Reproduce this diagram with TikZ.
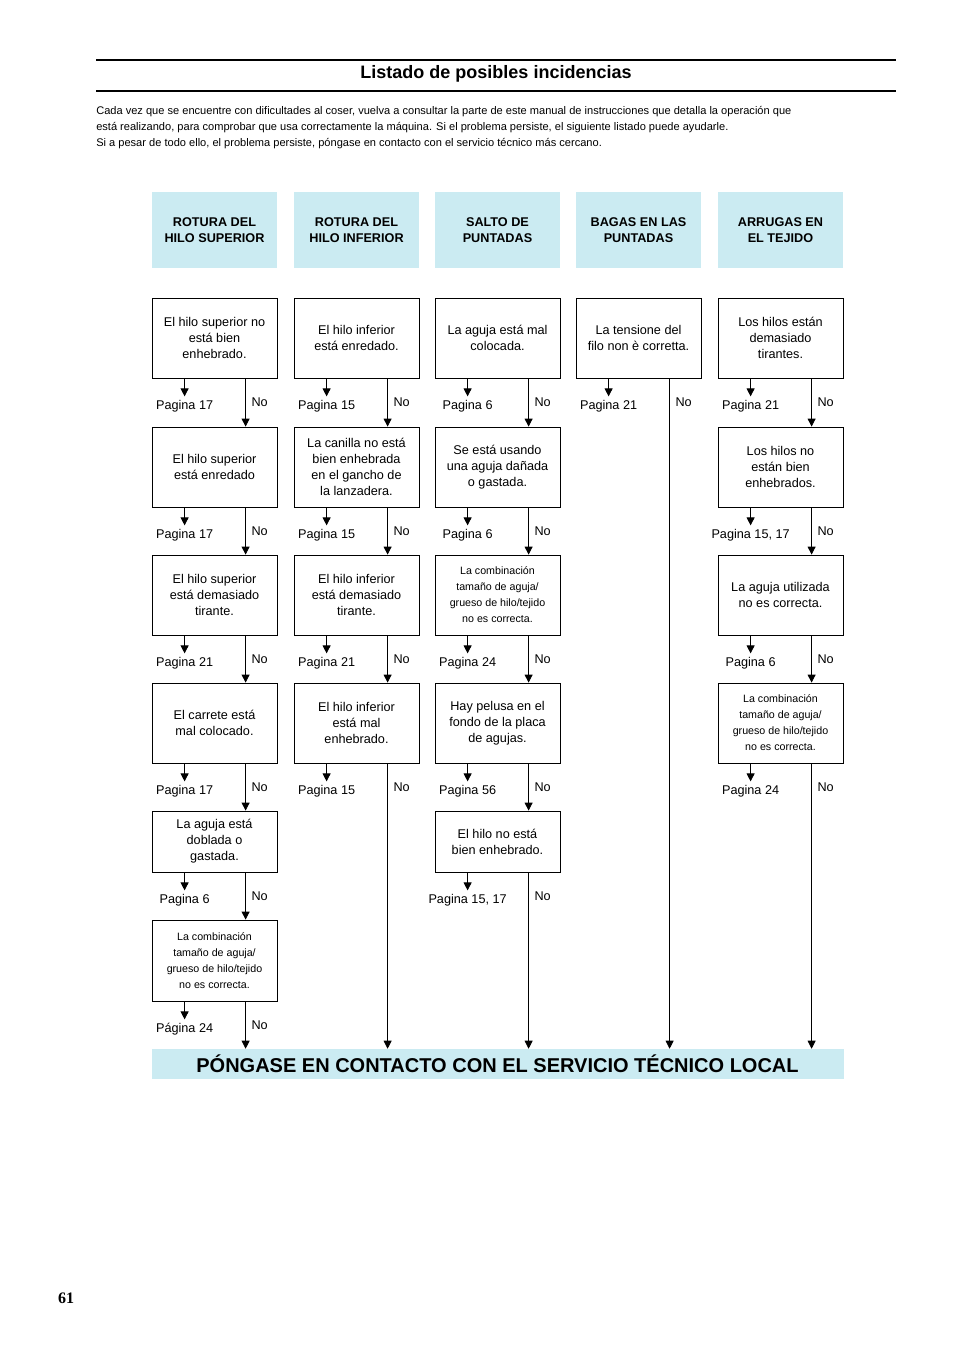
\documentclass[tikz,border=0pt]{standalone}
\usepackage{fontspec}
\setmainfont{Liberation Sans}
\usetikzlibrary{calc,arrows.meta}
\definecolor{celeste}{HTML}{CBEBF2}
\tikzset{
  caja/.style={draw, line width=0.6pt, minimum width=93.75pt, minimum height=60pt, align=center, inner sep=1pt, font=\fontsize{9.5}{12}\selectfont},
  cajachica/.style={caja, font=\fontsize{8}{12}\selectfont},
  cabecera/.style={fill=celeste, minimum width=93.75pt, minimum height=57pt, align=center, font=\fontsize{9.5}{12}\selectfont\bfseries},
  flecha/.style={line width=0.6pt, -{Triangle[length=6pt,width=6pt]}},
  pag/.style={font=\fontsize{9.5}{12}\selectfont},
}
% box: name, left x, top y, height (px), text
\newcommand{\caso}[5]{\node[caja, minimum height=#4*0.75pt] (#1) at (#2+62.5,#3+#4/2) {#5};}
\newcommand{\casochico}[5]{\node[cajachica, minimum height=#4*0.75pt] (#1) at (#2+62.5,#3+#4/2) {#5};}
% page arrow under a box
\newcommand{\pagina}[2]{\draw[flecha] ($(#1.south west)+(33,0)$) -- ++(0,18) node[pag, below=-1pt] (#1p) {#2};}
% "No" connector between boxes
\newcommand{\no}[2]{\draw[flecha] ($(#1.south west)+(94,0)$) -- ($(#2.north west)+(94,0)$);
  \node[pag] (#1no) at ($(#1.south west)+(108,24)$) {No};}
\newcommand{\nofin}[1]{\draw[flecha] ($(#1.south west)+(94,0)$) coordinate (#1c) -- (#1c |- fin.north);
  \node[pag] (#1no) at ($(#1.south west)+(108,24)$) {No};}
\begin{document}
\begin{tikzpicture}[x=0.75pt, y=-0.75pt]
\useasboundingbox (0,0) rectangle (954,1351);
% Title
\draw[line width=2.2pt] (96,60) -- (896,60);
\draw[line width=2.2pt] (96,91) -- (896,91);
\node[font=\fontsize{13.5}{14}\selectfont\bfseries] (titulo) at (496,74) {Listado de posibles incidencias};
\node[anchor=north west, align=left, inner sep=0pt, font=\fontsize{8.3}{12}\selectfont] (intro) at (96,106)
 {Cada vez que se encuentre con dificultades al coser, vuelva a consultar la parte de este manual de instrucciones que detalla la operación que\\
  está realizando, para comprobar que usa correctamente la máquina. Si el problema persiste, el siguiente listado puede ayudarle.\\
  Si a pesar de todo ello, el problema persiste, póngase en contacto con el servicio técnico más cercano.};

% Headers
\node[cabecera] (h1) at (214.5,230) {ROTURA DEL\\HILO SUPERIOR};
\node[cabecera] (h2) at (356.5,230) {ROTURA DEL\\HILO INFERIOR};
\node[cabecera] (h3) at (497.5,230) {SALTO DE\\PUNTADAS};
\node[cabecera] (h4) at (638.5,230) {BAGAS EN LAS\\PUNTADAS};
\node[cabecera] (h5) at (780.5,230) {ARRUGAS EN\\EL TEJIDO};

% Bottom bar
\node[fill=celeste, minimum width=519pt, minimum height=22.5pt, font=\fontsize{15}{16}\selectfont\bfseries] (fin) at (497.5,1064) {PÓNGASE EN CONTACTO CON EL SERVICIO TÉCNICO LOCAL};

% Column 1
\caso{a1}{152}{298}{80}{El hilo superior no\\está bien\\enhebrado.}
\caso{a2}{152}{427}{80}{El hilo superior\\está enredado}
\caso{a3}{152}{555}{80}{El hilo superior\\está demasiado\\tirante.}
\caso{a4}{152}{683}{80}{El carrete está\\mal colocado.}
\caso{a5}{152}{811}{61}{La aguja está\\doblada o\\gastada.}
\casochico{a6}{152}{920}{81}{La combinación\\tamaño de aguja/\\grueso de hilo/tejido\\no es correcta.}
\pagina{a1}{Pagina 17} \pagina{a2}{Pagina 17} \pagina{a3}{Pagina 21}
\pagina{a4}{Pagina 17} \pagina{a5}{Pagina 6} \pagina{a6}{Página 24}
\no{a1}{a2} \no{a2}{a3} \no{a3}{a4} \no{a4}{a5} \no{a5}{a6} \nofin{a6}

% Column 2
\caso{b1}{294}{298}{80}{El hilo inferior\\está enredado.}
\caso{b2}{294}{427}{80}{La canilla no está\\bien enhebrada\\en el gancho de\\la lanzadera.}
\caso{b3}{294}{555}{80}{El hilo inferior\\está demasiado\\tirante.}
\caso{b4}{294}{683}{80}{El hilo inferior\\está mal\\enhebrado.}
\pagina{b1}{Pagina 15} \pagina{b2}{Pagina 15} \pagina{b3}{Pagina 21} \pagina{b4}{Pagina 15}
\no{b1}{b2} \no{b2}{b3} \no{b3}{b4} \nofin{b4}

% Column 3
\caso{c1}{435}{298}{80}{La aguja está mal\\colocada.}
\caso{c2}{435}{427}{80}{Se está usando\\una aguja dañada\\o gastada.}
\casochico{c3}{435}{555}{80}{La combinación\\tamaño de aguja/\\grueso de hilo/tejido\\no es correcta.}
\caso{c4}{435}{683}{80}{Hay pelusa en el\\fondo de la placa\\de agujas.}
\caso{c5}{435}{811}{61}{El hilo no está\\bien enhebrado.}
\pagina{c1}{Pagina 6} \pagina{c2}{Pagina 6} \pagina{c3}{Pagina 24}
\pagina{c4}{Pagina 56} \pagina{c5}{Pagina 15, 17}
\no{c1}{c2} \no{c2}{c3} \no{c3}{c4} \no{c4}{c5} \nofin{c5}

% Column 4
\caso{d1}{576}{298}{80}{La tensione del\\filo non è corretta.}
\pagina{d1}{Pagina 21}
\nofin{d1}

% Column 5
\caso{e1}{718}{298}{80}{Los hilos están\\demasiado\\tirantes.}
\caso{e2}{718}{427}{80}{Los hilos no\\están bien\\enhebrados.}
\caso{e3}{718}{555}{80}{La aguja utilizada\\no es correcta.}
\casochico{e4}{718}{683}{80}{La combinación\\tamaño de aguja/\\grueso de hilo/tejido\\no es correcta.}
\pagina{e1}{Pagina 21} \pagina{e2}{Pagina 15, 17} \pagina{e3}{Pagina 6} \pagina{e4}{Pagina 24}
\no{e1}{e2} \no{e2}{e3} \no{e3}{e4} \nofin{e4}

% Page number
\node[font=\fontsize{12}{12}\selectfont\bfseries\rmfamily] (pagnum) at (66,1298) {\fontspec{Liberation Serif}61};
\end{tikzpicture}
\end{document}
